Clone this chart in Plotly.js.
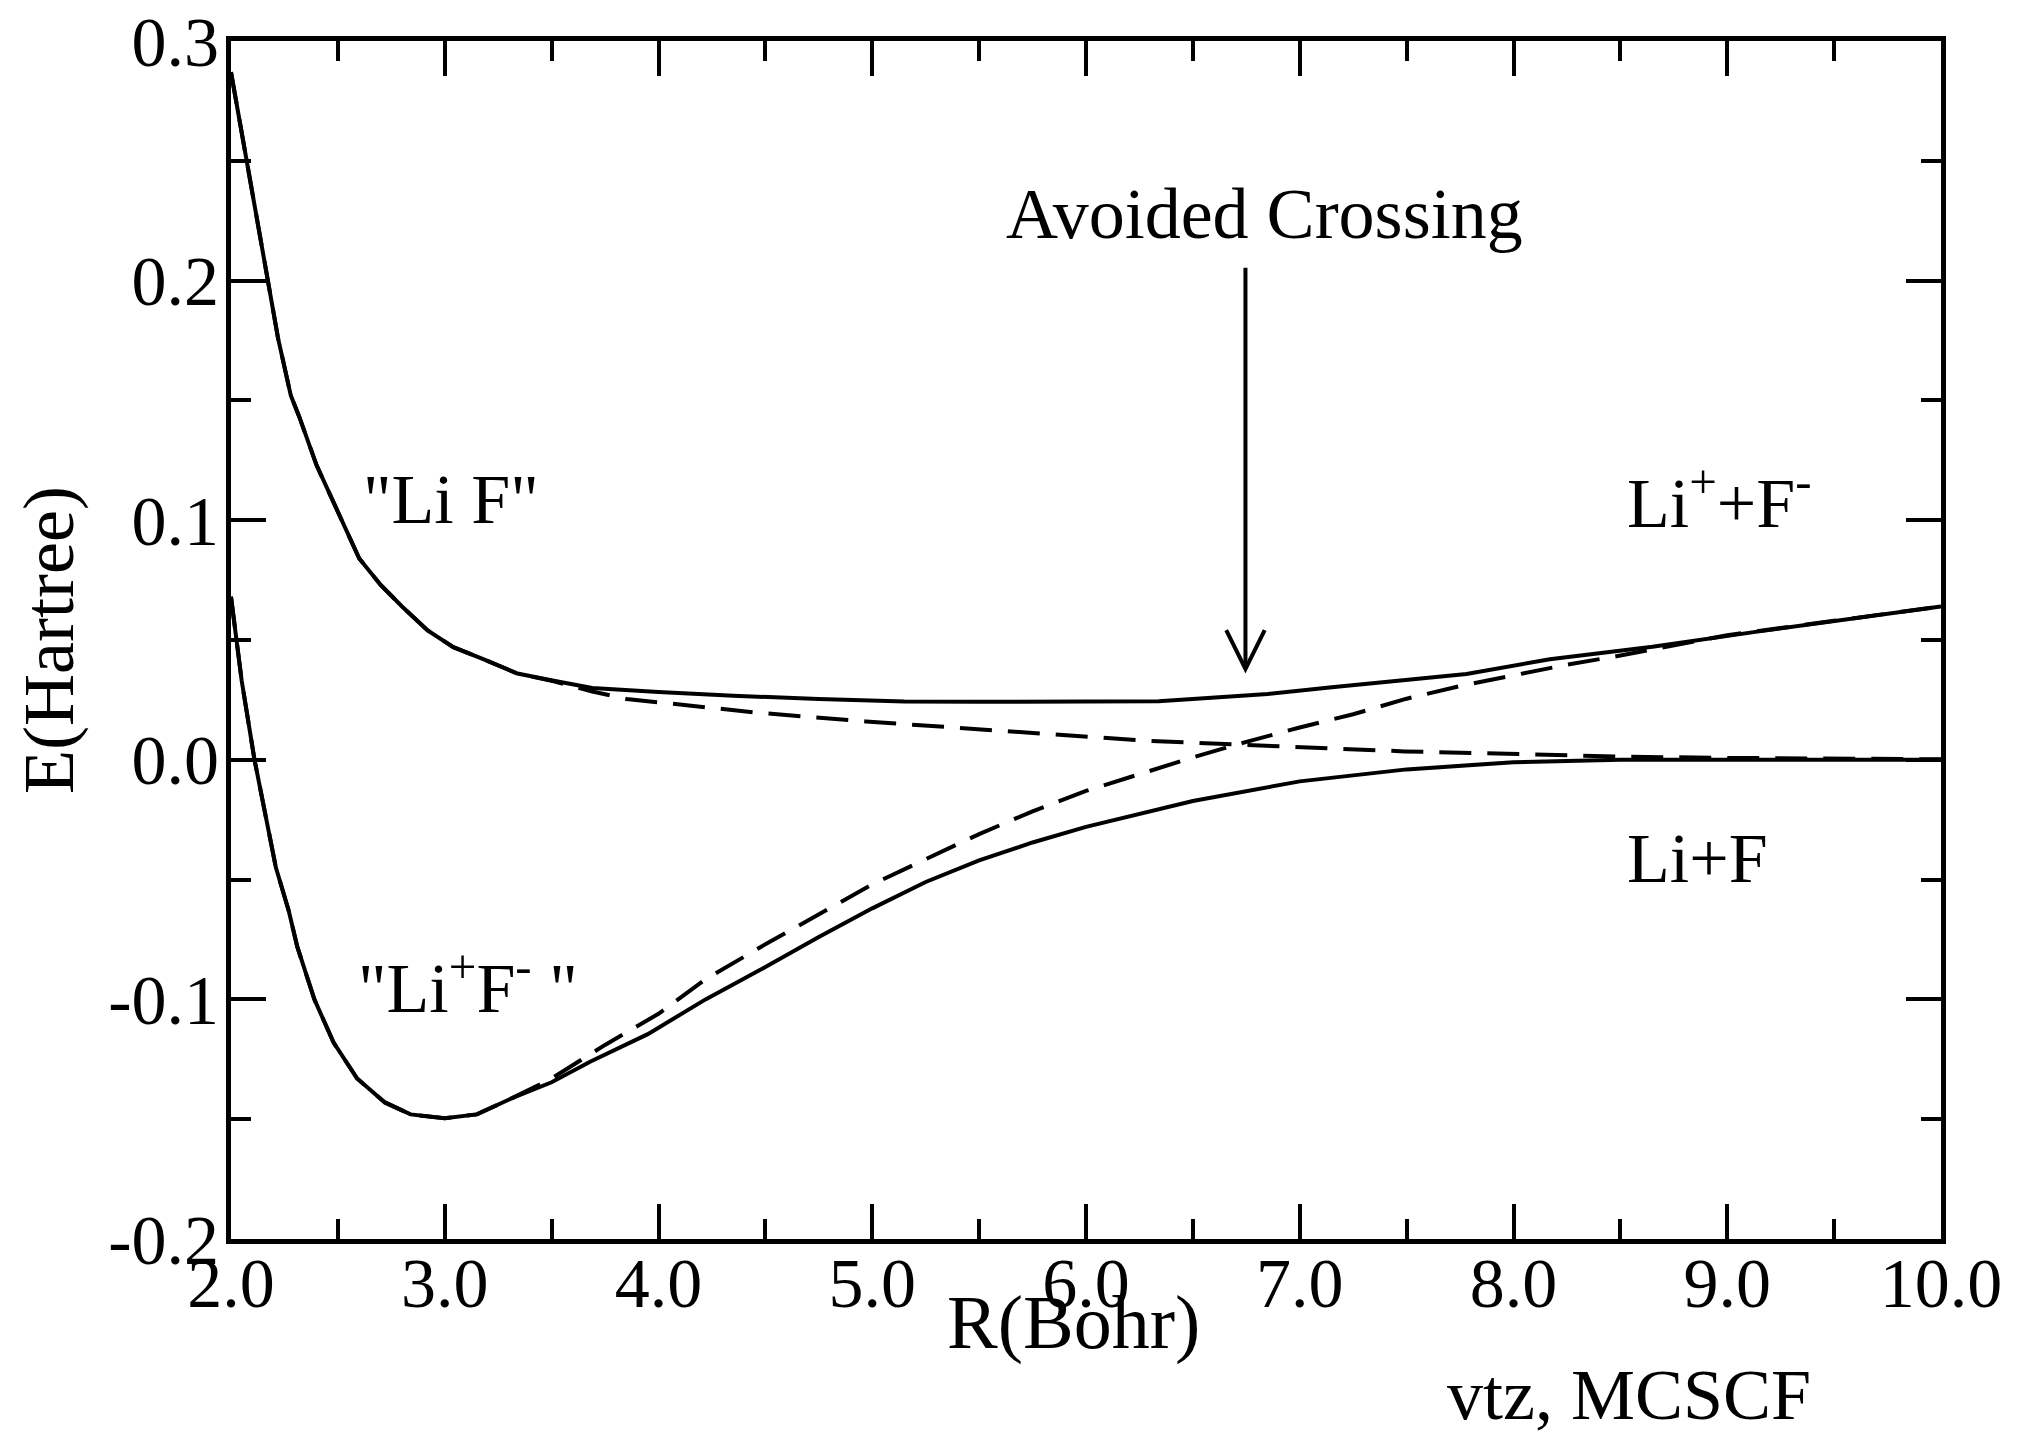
<!DOCTYPE html>
<html>
<head>
<meta charset="utf-8">
<script src="https://cdn.plot.ly/plotly-3.0.1.min.js"></script>
<style>
  html, body { margin: 0; padding: 0; background: #ffffff; }
  #chart { width: 2017px; height: 1435px; }
</style>
</head>
<body>
<div id="chart"></div>
<script>
// ---- Data ----
// Upper adiabatic state (solid)
const rUpper = [2.0, 2.07, 2.17, 2.22, 2.28, 2.32, 2.40, 2.48, 2.60, 2.70, 2.80, 2.92, 3.04, 3.18, 3.34, 3.51, 3.69, 4.0, 4.35, 4.75, 5.15, 5.5, 6.0, 6.34, 6.64, 6.85, 7.15, 7.45, 7.78, 8.17, 8.65, 9.14, 9.52, 10.0];
const eUpper = [0.287, 0.252, 0.200, 0.176, 0.152, 0.143, 0.123, 0.107, 0.084, 0.073, 0.064, 0.054, 0.047, 0.042, 0.036, 0.033, 0.030, 0.0283, 0.0267, 0.0254, 0.0243, 0.0242, 0.0242, 0.0244, 0.0262, 0.0275, 0.0303, 0.0328, 0.0358, 0.0420, 0.0472, 0.0535, 0.0583, 0.0640];

// Lower adiabatic state (solid)
const rLower = [2.0, 2.05, 2.11, 2.16, 2.21, 2.27, 2.31, 2.39, 2.48, 2.59, 2.72, 2.84, 3.0, 3.15, 3.32, 3.5, 3.68, 3.95, 4.22, 4.5, 4.75, 5.0, 5.25, 5.5, 5.75, 6.0, 6.5, 7.0, 7.5, 8.0, 8.5, 9.0, 9.5, 10.0];
const eLower = [0.068, 0.033, 0.000, -0.023, -0.045, -0.063, -0.078, -0.100, -0.118, -0.133, -0.143, -0.148, -0.1496, -0.148, -0.141, -0.1346, -0.126, -0.1145, -0.100, -0.0865, -0.074, -0.062, -0.051, -0.042, -0.0345, -0.028, -0.0172, -0.0090, -0.0040, -0.0010, 0.0, 0.0, 0.0, 0.0];

// Covalent diabatic state (dashed)
const rCovalent = [2.0, 2.07, 2.17, 2.22, 2.28, 2.32, 2.40, 2.48, 2.60, 2.70, 2.80, 2.92, 3.04, 3.18, 3.34, 3.51, 3.69, 3.85, 4.22, 4.47, 4.97, 5.45, 5.9, 6.27, 6.75, 7.0, 7.21, 7.49, 7.97, 8.26, 8.5, 9.0, 9.5, 10.0];
const eCovalent = [0.287, 0.252, 0.200, 0.176, 0.152, 0.143, 0.123, 0.107, 0.084, 0.073, 0.064, 0.054, 0.047, 0.042, 0.036, 0.0328, 0.0285, 0.0254, 0.0217, 0.0196, 0.0160, 0.0132, 0.0104, 0.0080, 0.0062, 0.0054, 0.0044, 0.0035, 0.0025, 0.0018, 0.0013, 0.0008, 0.0004, 0.0002];

// Ionic diabatic state (dashed)
const rIonic = [2.0, 2.05, 2.11, 2.16, 2.21, 2.27, 2.31, 2.39, 2.48, 2.59, 2.72, 2.84, 3.0, 3.15, 3.32, 3.5, 3.75, 4.0, 4.22, 4.5, 4.79, 5.0, 5.25, 5.5, 5.75, 6.0, 6.25, 6.5, 6.75, 7.0, 7.25, 7.5, 7.75, 8.0, 8.25, 8.5, 9.0, 9.5, 10.0];
const eIonic = [0.068, 0.033, 0.000, -0.023, -0.045, -0.063, -0.078, -0.100, -0.118, -0.133, -0.143, -0.148, -0.1496, -0.148, -0.141, -0.133, -0.119, -0.106, -0.0916, -0.077, -0.0623, -0.052, -0.0415, -0.031, -0.0215, -0.013, -0.006, 0.001, 0.0075, 0.0135, 0.019, 0.0255, 0.0308, 0.0353, 0.0397, 0.0435, 0.052, 0.058, 0.064];

// Tick labels
const xTickVals = [2, 3, 4, 5, 6, 7, 8, 9, 10];
const xTickText = ["2.0", "3.0", "4.0", "5.0", "6.0", "7.0", "8.0", "9.0", "10.0"];
const yTickVals = [-0.2, -0.1, 0.0, 0.1, 0.2, 0.3];
const yTickText = ["-0.2", "-0.1", "0.0", "0.1", "0.2", "0.3"];

// Annotation arrow anchor (data units)
const arrowR = 6.746, arrowTop = 0.2054, arrowTip = 0.0379;

const FONT = "Liberation Serif, Times New Roman, serif";
const lineStyle = { color: "#000000", width: 4 };
const dashStyle = { color: "#000000", width: 4, dash: "32px,16px" };

const traces = [
  { x: rUpper, y: eUpper, type: "scatter", mode: "lines", line: lineStyle, name: "upper" },
  { x: rLower, y: eLower, type: "scatter", mode: "lines", line: lineStyle, name: "lower" },
  { x: rCovalent, y: eCovalent, type: "scatter", mode: "lines", line: dashStyle, name: "covalent" },
  { x: rIonic, y: eIonic, type: "scatter", mode: "lines", line: dashStyle, name: "ionic" }
];

const axisCommon = {
  showline: true, linewidth: 5, linecolor: "#000000", mirror: "allticks",
  ticks: "inside", ticklen: 35, tickwidth: 4, tickcolor: "#000000",
  showgrid: false, zeroline: false,
  tickfont: { family: FONT, size: 70, color: "#000000" },
  tickmode: "array"
};

const layout = {
  width: 2017, height: 1435,
  margin: { l: 231, r: 76, t: 41, b: 196 },
  paper_bgcolor: "#ffffff", plot_bgcolor: "#ffffff",
  showlegend: false,
  font: { family: FONT, color: "#000000", size: 70 },
  xaxis: Object.assign({}, axisCommon, {
    range: [2, 10], tickvals: xTickVals, ticktext: xTickText,
    ticklabelstandoff: -21,
    minor: { tickmode: "linear", tick0: 2, dtick: 0.5, ticks: "inside", ticklen: 20, tickwidth: 4, tickcolor: "#000000", showgrid: false }
  }),
  yaxis: Object.assign({}, axisCommon, {
    range: [-0.2, 0.3], tickvals: yTickVals, ticktext: yTickText,
    ticklabelstandoff: -7,
    title: { text: "E(Hartree)", font: { family: FONT, size: 72, color: "#000000" }, standoff: 12 },
    minor: { tickmode: "linear", tick0: -0.2, dtick: 0.05, ticks: "inside", ticklen: 20, tickwidth: 4, tickcolor: "#000000", showgrid: false }
  }),
  shapes: [
    { type: "line", xref: "x", yref: "y", x0: arrowR, x1: arrowR, y0: arrowTop, y1: arrowTip,
      line: { color: "#000000", width: 4 } },
    { type: "path", xref: "x", yref: "y",
      path: "M " + (arrowR - 0.09) + "," + (arrowTip + 0.0162) + " L " + arrowR + "," + arrowTip + " L " + (arrowR + 0.09) + "," + (arrowTip + 0.0162),
      line: { color: "#000000", width: 4 } }
  ],
  annotations: [
    { text: "Avoided Crossing", x: 6.834, y: 0.2277, xref: "x", yref: "y", showarrow: false,
      xanchor: "center", yanchor: "middle", font: { family: FONT, size: 72, color: "#000000" } },
    { text: "\"Li F\"", x: 3.027, y: 0.1088, xref: "x", yref: "y", showarrow: false,
      xanchor: "center", yanchor: "middle", font: { family: FONT, size: 70, color: "#000000" } },
    { text: "\"Li<sup>+</sup>F<sup>-</sup> \"", x: 3.111, y: -0.0933, xref: "x", yref: "y", showarrow: false,
      xanchor: "center", yanchor: "middle", font: { family: FONT, size: 70, color: "#000000" } },
    { text: "Li<sup>+</sup>+F<sup>-</sup>", x: 8.963, y: 0.1092, xref: "x", yref: "y", showarrow: false,
      xanchor: "center", yanchor: "middle", font: { family: FONT, size: 70, color: "#000000" } },
    { text: "Li+F", x: 8.861, y: -0.0413, xref: "x", yref: "y", showarrow: false,
      xanchor: "center", yanchor: "middle", font: { family: FONT, size: 70, color: "#000000" } },
    { text: "R(Bohr)", x: 0.4924, y: -0.0693, xref: "paper", yref: "paper", showarrow: false,
      xanchor: "center", yanchor: "middle", font: { family: FONT, size: 76, color: "#000000" } },
    { text: "vtz, MCSCF", x: 0.8173, y: -0.13, xref: "paper", yref: "paper", showarrow: false,
      xanchor: "center", yanchor: "middle", font: { family: FONT, size: 72, color: "#000000" } }
  ]
};

Plotly.newPlot("chart", traces, layout, { displayModeBar: false, staticPlot: true });
</script>
</body>
</html>
